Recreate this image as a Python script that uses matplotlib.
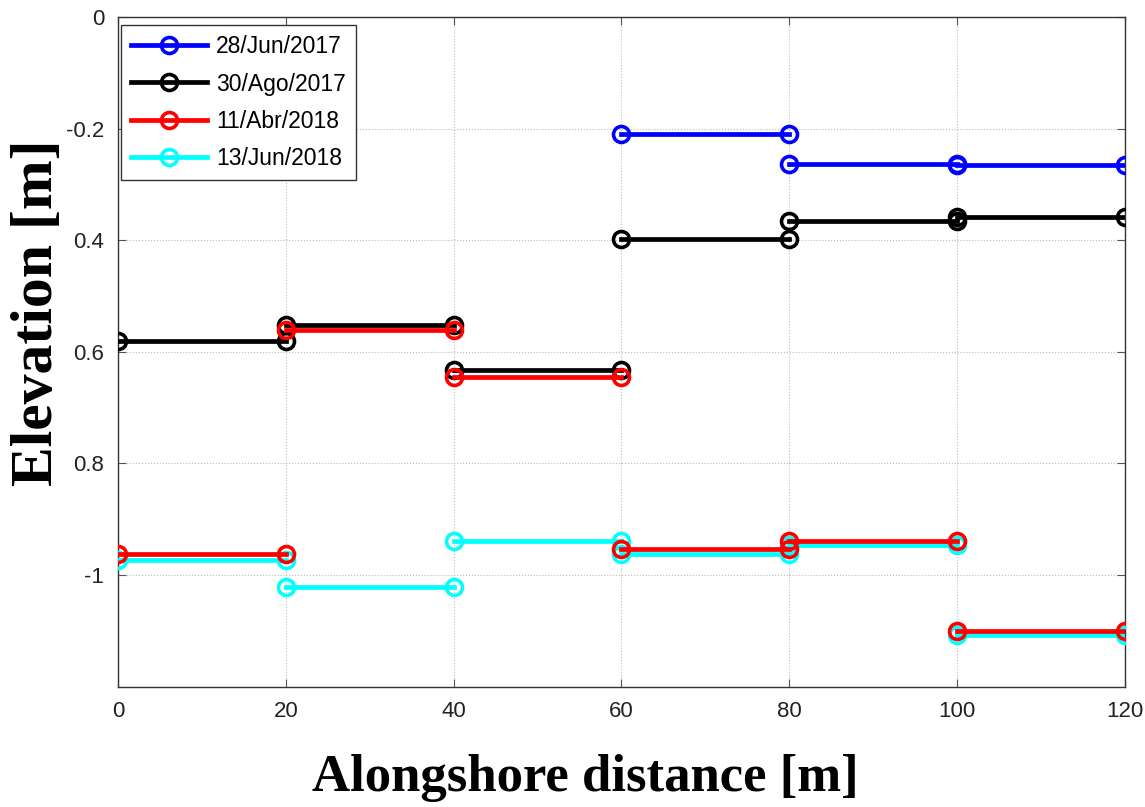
import numpy as np
import matplotlib.pyplot as plt

# segments: (x start, x end, elevation)
labels = ['28/Jun/2017', '30/Ago/2017', '11/Abr/2018', '13/Jun/2018']
colors = ['#0000ff', '#000000', '#ff0000', '#00ffff']
x0 = [0, 20, 40, 60, 80, 100]
blue_y = [np.nan, np.nan, np.nan, -0.209, -0.264, -0.266]
black_y = [-0.580, -0.552, -0.632, -0.398, -0.366, -0.359]
red_y = [-0.962, -0.561, -0.645, -0.953, -0.938, -1.100]
cyan_y = [-0.973, -1.021, -0.938, -0.963, -0.946, -1.108]
series = [blue_y, black_y, red_y, cyan_y]
zorders = [3, 4, 6, 5]

yticks = [0, -0.2, -0.4, -0.6, -0.8, -1]
ytick_labels = ['0', '-0.2', '0.4', '0.6', '0.8', '-1']
xticks = [0, 20, 40, 60, 80, 100, 120]

fig = plt.figure(figsize=(11.45, 8.07), dpi=100)
ax = fig.add_axes([0.103, 0.149, 0.8795, 0.830])

for lab, c, ys, z in zip(labels, colors, series, zorders):
    xs, yy = [], []
    for xa, yv in zip(x0, ys):
        xs += [xa, xa + 20, np.nan]
        yy += [yv, yv, np.nan]
    ax.plot(xs, yy, '-o', color=c, lw=3.4, ms=11.5, mfc='none', mew=2.6,
            label=lab, zorder=z)

ax.set_xlim(0, 120)
ax.set_ylim(-1.2, 0)
ax.set_xticks(xticks)
ax.set_yticks(yticks)
ax.set_yticklabels(ytick_labels)
ax.tick_params(direction='in', top=True, right=True, labelsize=16,
               length=6, color='#555555', pad=10, labelcolor='#222222')
ax.grid(True, ls=':', color='#bbbbbb', lw=0.8)
for s in ax.spines.values():
    s.set_linewidth(1.0)
    s.set_color('#333333')
for t in ax.get_xticklabels() + ax.get_yticklabels():
    t.set_fontfamily('Liberation Sans')

leg = ax.legend(loc='upper left', bbox_to_anchor=(0.003, 0.988),
                borderaxespad=0,
                prop={'family': 'Liberation Sans', 'size': 16.5},
                fancybox=False, edgecolor='#333333', framealpha=1,
                handlelength=3.3, borderpad=0.45, labelspacing=0.62,
                handletextpad=0.4)
leg.get_frame().set_linewidth(1.0)

fig.text(0.511, 0.036, 'Alongshore distance [m]', ha='center', va='center',
         fontsize=38, fontweight='bold', family='Liberation Serif')
fig.text(0.033, 0.613, 'Elevation [m]', ha='center', va='center',
         rotation=90, fontsize=43, fontweight='bold', family='Liberation Serif')

fig.savefig('out.png', dpi=100)
